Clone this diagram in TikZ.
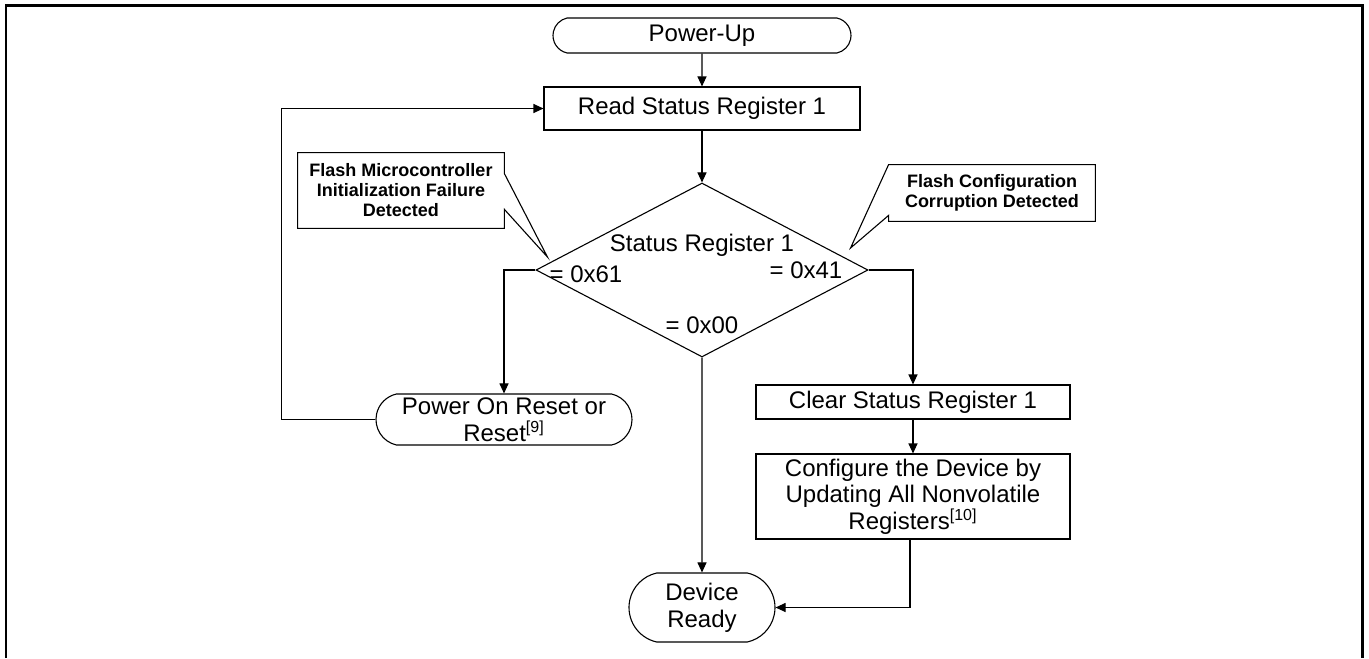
\documentclass[tikz,border=0pt]{standalone}
\usepackage{fontspec}
\setmainfont{Liberation Sans}
\usepackage{tikz}
\usetikzlibrary{arrows.meta}
\usetikzlibrary{shapes.geometric, shapes.misc}
\tikzset{terminal/.style={rounded rectangle, rounded rectangle arc length=155, draw, line width=.55pt, inner sep=0pt, align=center, font=\fontsize{12}{13.3}\selectfont},
	process/.style={rectangle, draw, line width=.55pt, inner sep=0pt, align=center, minimum width=157pt, font=\fontsize{12}{13.3}\selectfont},
	decision/.style={diamond, draw, line width=.55pt, inner sep=0pt, minimum width=166pt, minimum height=87pt},
	cond/.style={inner sep=0pt, text depth=0pt, font=\fontsize{12}{13.3}\selectfont},
	note/.style={inner sep=0pt, align=center, minimum width=103pt, font=\fontsize{9}{10}\selectfont\bfseries}
}
\tikzstyle{flow} = [line width=.55pt, -{Triangle[length=5pt, width=4.5pt]}]
\tikzstyle{frame} = [line width=1.2pt]

\begin{document}
\begin{tikzpicture}[node distance=36.5pt]
			\useasboundingbox (-351pt,17.75pt) rectangle (333.5pt,-311.25pt);
			\draw[frame] (-348pt,-311.25pt) -- (-348pt,15pt) -- (330.25pt,15pt) -- (330.25pt,-311.25pt);
			
			\node[terminal, minimum width=149pt, minimum height=17.5pt](pwr){Power-Up};
			\node[process, below of=pwr, minimum width=158pt, minimum height=21.5pt](read){Read Status Register 1};
			\node[decision, below of=read, yshift=-44.25pt](dec){};
			\node[terminal, below of=dec, xshift=-99pt, yshift=-38.25pt, minimum width=128pt, minimum height=25.5pt](por){Power On Reset or\\Reset\textsuperscript{[9]}};
			\node[process, below of=dec, xshift=105.5pt, yshift=-29.5pt, minimum height=17pt](clr){Clear Status Register 1};
			\node[process, below of=clr, yshift=-10.75pt, minimum height=42.5pt](cfg){Configure the Device by\\Updating All Nonvolatile\\Registers\textsuperscript{[10]}};
			\node[terminal, below of=dec, yshift=-132.25pt, minimum width=73pt, minimum height=34.5pt](rdy){Device\\Ready};
			
			% decision labels
			\node[cond, above of=dec, yshift=-22.75pt](sr1){Status Register 1};
			\node[cond, left of=dec, xshift=-21.5pt, yshift=-2.25pt](c61){= 0x61};
			\node[cond, right of=dec, xshift=15.5pt](c41){= 0x41};
			\node[cond, below of=dec, yshift=9pt](c00){= 0x00};
			
			% callouts
			\node[note, above of=dec, xshift=-150.5pt, yshift=3.25pt, minimum height=37.5pt](fail){Flash Microcontroller\\Initialization Failure\\Detected};
			\node[note, above of=dec, xshift=145pt, yshift=2pt, minimum height=28pt](corr){Flash Configuration\\Corruption Detected};
			\coordinate (failtip) at ([shift={(6pt,6.5pt)}]dec.west);
			\coordinate (corrtip) at ([shift={(-9pt,11pt)}]dec.east);
			\draw[line width=.55pt] (fail.north west) -- (fail.north east) -- ([yshift=-10.5pt]fail.north east) -- (failtip) -- ([yshift=9.5pt]fail.south east) -- (fail.south east) -- (fail.south west) -- cycle;
			\draw[line width=.55pt] (corr.north west) -- (corrtip) -- ([yshift=3pt]corr.south west) -- (corr.south west) -- (corr.south east) -- (corr.north east) -- cycle;
			
			% draw lines
			\draw[flow] (pwr) -- (read);
			\draw[flow] (read) -- (dec);
			\draw[flow] (dec.west) -| (por);
			\draw[flow] (por.west) -- ++(-47pt,0) |- (read.west);
			\draw[flow] (dec.east) -| (clr);
			\draw[flow] (clr) -- (cfg);
			\draw[flow] (dec) -- (rdy);
			\draw[flow] ([xshift=-1.5pt]cfg.south) |- (rdy.east);
		\end{tikzpicture}
\end{document}
